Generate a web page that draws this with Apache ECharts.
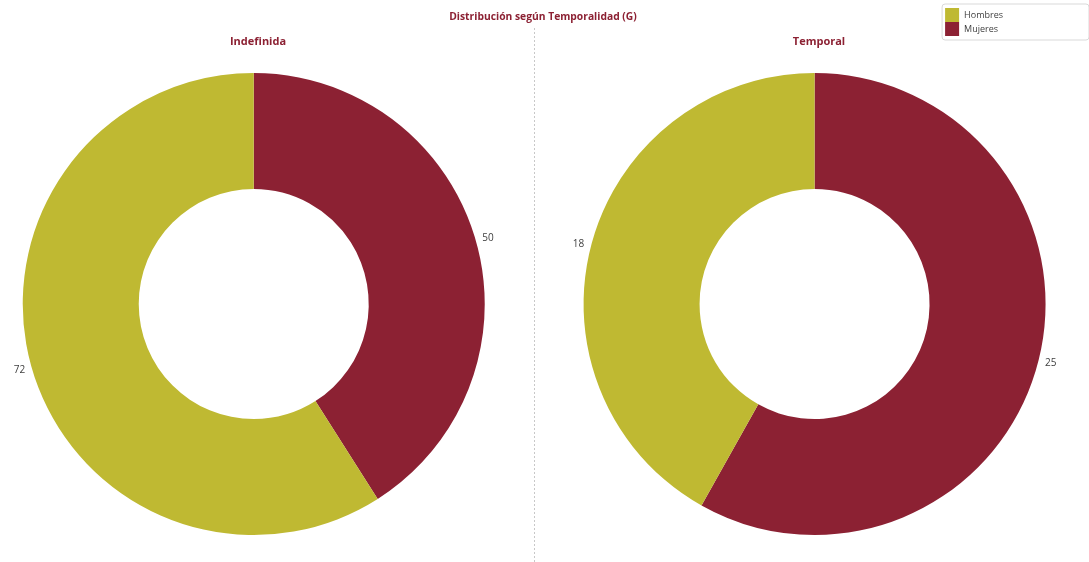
<!DOCTYPE html>
<html>
<head>
<meta charset="utf-8">
<script src="https://cdn.jsdelivr.net/npm/echarts@6/dist/echarts.min.js"></script>
<style>
  html, body { margin: 0; padding: 0; background: #ffffff; }
  #chart { width: 1089px; height: 562px; }
</style>
</head>
<body>
<div id="chart"></div>
<script>
// Series and categories
const categories = ['Hombres', 'Mujeres'];
const panels = ['Indefinida', 'Temporal'];
const hombres = [72, 18];
const mujeres = [50, 25];

const COLOR_H = '#BFB932';
const COLOR_M = '#8C2133';
const FONT = '"Open Sans", "Noto Sans", sans-serif';

const centersX = ['23.3%', '74.8%'];

const chart = echarts.init(document.getElementById('chart'), null, { renderer: 'canvas' });

const series = panels.map((name, i) => ({
  name: name,
  type: 'pie',
  center: [centersX[i], '54.1%'],
  radius: [115, 231],
  startAngle: 90,
  clockwise: true,
  avoidLabelOverlap: false,
  silent: true,
  label: {
    show: true,
    position: 'outside',
    formatter: '{c}',
    color: '#404040',
    fontSize: 10,
    fontFamily: FONT,
    distanceToLabelLine: 3
  },
  labelLine: { show: false, length: 4, length2: 0 },
  itemStyle: { borderWidth: 0 },
  data: [
    { name: categories[1], value: mujeres[i], itemStyle: { color: COLOR_M } },
    { name: categories[0], value: hombres[i], itemStyle: { color: COLOR_H } }
  ]
}));

chart.setOption({
  animation: false,
  backgroundColor: '#ffffff',
  title: [
    { text: 'Distribución según Temporalidad (G)', left: 538, top: 7, textAlign: 'center',
      textStyle: { color: COLOR_M, fontSize: 10.3, fontWeight: 'bold', fontFamily: FONT } },
    { text: panels[0], left: 253, top: 31, textAlign: 'center',
      textStyle: { color: COLOR_M, fontSize: 11, fontWeight: 'bold', fontFamily: FONT } },
    { text: panels[1], left: 814, top: 31, textAlign: 'center',
      textStyle: { color: COLOR_M, fontSize: 11, fontWeight: 'bold', fontFamily: FONT } }
  ],
  legend: {
    data: categories,
    orient: 'vertical',
    right: 0,
    top: 4,
    itemGap: 0,
    itemWidth: 14,
    itemHeight: 14,
    icon: 'rect',
    borderColor: '#d9d9d9',
    borderWidth: 1,
    borderRadius: 3,
    padding: [4, 86, 4, 3],
    selectedMode: false,
    textStyle: { color: '#404040', fontSize: 9, fontFamily: FONT, padding: [0, 0, 0, 0] }
  },
  graphic: [
    { type: 'line', silent: true,
      shape: { x1: 534.5, y1: 28, x2: 534.5, y2: 562 },
      style: { stroke: '#c8c8c8', lineWidth: 1, lineDash: [2, 2] } }
  ],
  series: series
});
</script>
</body>
</html>
